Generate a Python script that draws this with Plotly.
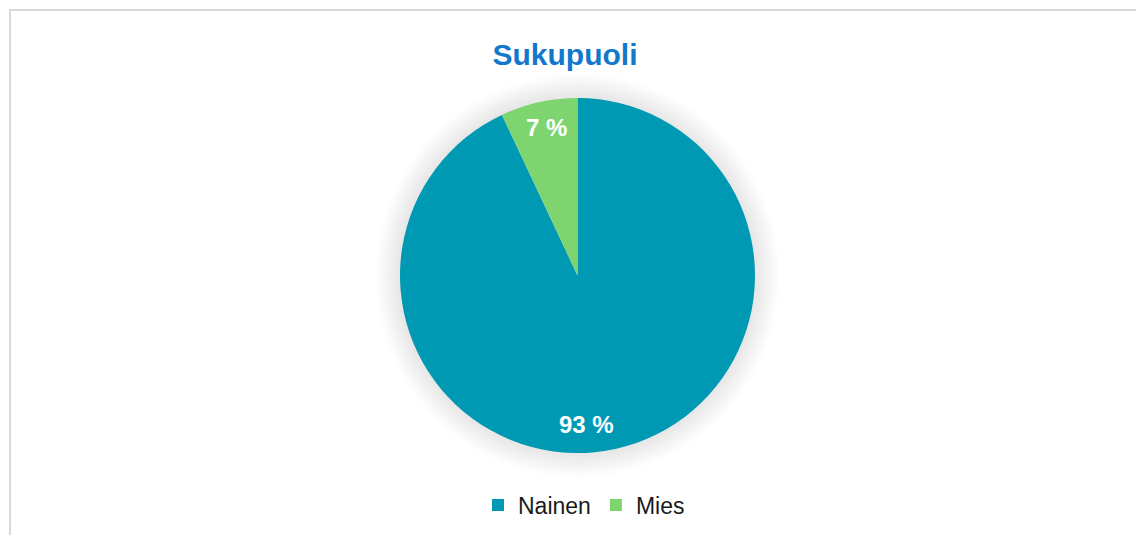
import plotly.graph_objects as go

labels = ["Nainen", "Mies"]
values = [93, 7]
text_labels = ["93 %", "7 %"]
colors = ["#0099B4", "#7ED56F"]

W, H = 1144, 535
OFF = 8  # page body margin


def fx(px):
    return (px - OFF) / W


def fy(py):
    return 1 - (py - OFF) / H


CX, CY, R = 577.5, 275.5, 177.5
FONT = "Liberation Sans, Arial"

fig = go.Figure()
fig.add_trace(go.Pie(
    labels=labels,
    values=values,
    textinfo="none",
    sort=False,
    direction="clockwise",
    rotation=0,
    marker=dict(colors=colors, line=dict(width=0)),
    domain=dict(x=[fx(CX - R), fx(CX + R)], y=[fy(CY + R), fy(CY - R)]),
    hoverinfo="label+percent",
))

# data labels (Excel-style placement)
label_pos = {"93 %": (586, 424), "7 %": (546, 127)}
annotations = []
for t in text_labels:
    px, py = label_pos[t]
    annotations.append(dict(
        text="<b>%s</b>" % t, x=fx(px), y=fy(py), xref="paper", yref="paper",
        xanchor="center", yanchor="middle", showarrow=False,
        font=dict(family=FONT, size=24, color="white"),
    ))

shapes = []
# soft shadow around the pie
for k in range(1, 26):
    rr = R + k
    shapes.append(dict(
        type="circle", xref="paper", yref="paper",
        x0=fx(CX - rr), x1=fx(CX + rr), y0=fy(CY + rr), y1=fy(CY - rr),
        line=dict(width=0), fillcolor="rgba(0,0,0,0.0045)", layer="below",
    ))
# chart border
shapes.append(dict(
    type="rect", xref="paper", yref="paper",
    x0=fx(10), x1=fx(1143), y0=-0.05, y1=fy(10),
    line=dict(color="#D9D9D9", width=2),
    fillcolor="rgba(0,0,0,0)", layer="below",
))

fig.update_layout(
    width=W, height=H,
    margin=dict(l=0, r=0, t=0, b=0),
    paper_bgcolor="white",
    plot_bgcolor="white",
    title=dict(
        text="<b>Sukupuoli</b>",
        x=fx(565), xanchor="center",
        y=fy(54), yanchor="middle",
        font=dict(family=FONT, size=30, color="#1278CC"),
    ),
    legend=dict(
        orientation="h",
        x=fx(584), xanchor="center",
        y=fy(505), yanchor="middle",
        font=dict(family=FONT, size=23, color="#1a1a1a"),
        itemwidth=30,
        tracegroupgap=0,
    ),
    annotations=annotations,
    shapes=shapes,
)

fig.write_html("out.html")
